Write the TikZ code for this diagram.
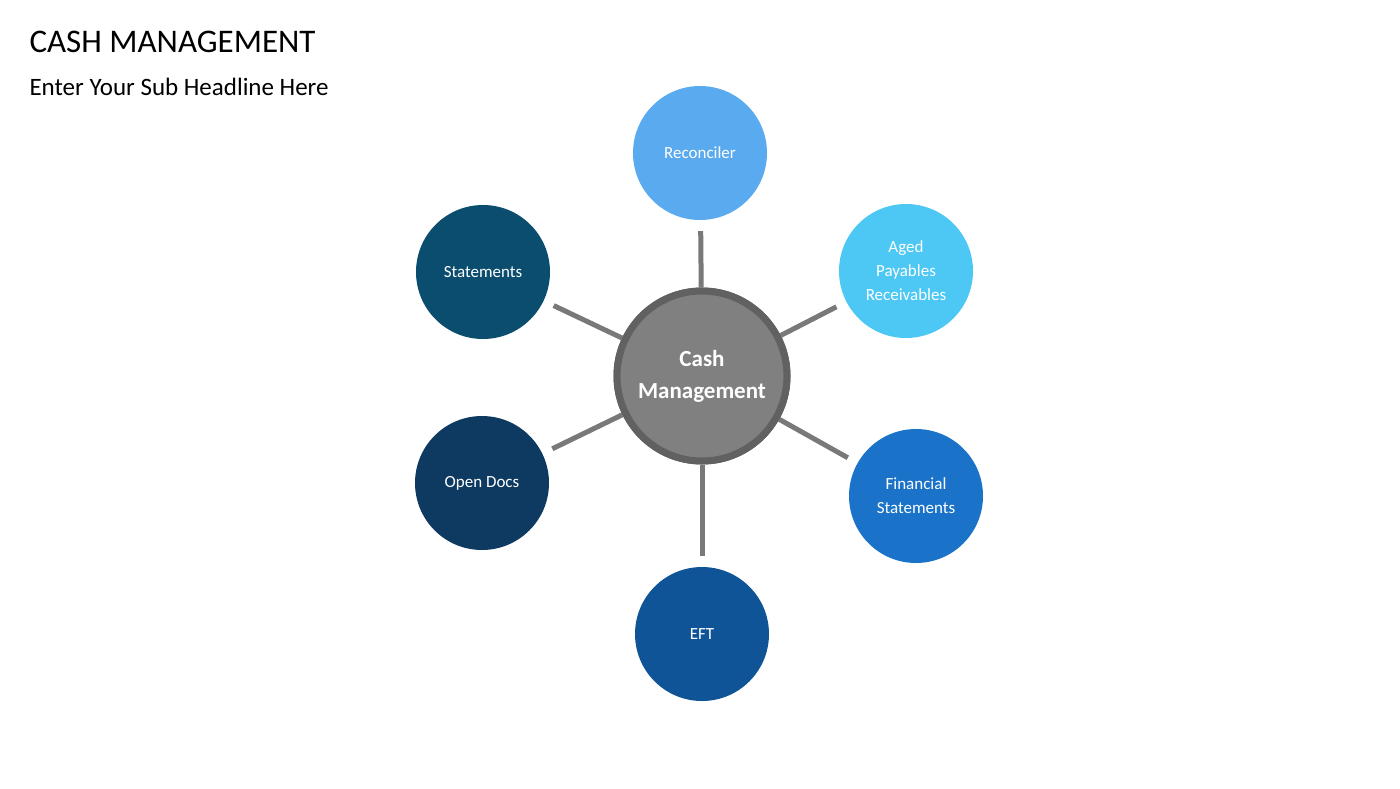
\documentclass[tikz,border=0pt]{standalone}
\usepackage{fontspec}
\setmainfont{Carlito}
\begin{document}
\begin{tikzpicture}[x=1pt,y=-1pt,
  sat/.style={circle,minimum size=134pt,inner sep=0pt,text=white,align=center,font=\fontsize{17}{24}\selectfont},
  link/.style={draw=gray!95!black,line width=5pt,shorten >=11pt}]
\useasboundingbox (0,0) rectangle (1400,788);
\definecolor{cA}{HTML}{5AAAF0}\definecolor{cB}{HTML}{4DC8F5}\definecolor{cC}{HTML}{1A73C8}
\definecolor{cD}{HTML}{0F5496}\definecolor{cE}{HTML}{0E3A62}\definecolor{cF}{HTML}{0B4D6E}
\node[anchor=west,font=\fontsize{33}{36}\selectfont] (t) at (26,42) {CASH MANAGEMENT};
\node[anchor=west,font=\fontsize{25}{30}\selectfont] (s) at (26,87) {Enter Your Sub Headline Here};
\node[circle,minimum size=170pt,inner sep=0pt,fill=gray!100,draw=black!62,line width=7pt,text=white,align=center,font=\bfseries\fontsize{23}{32}\selectfont] (c) at (702,376) {Cash\\Management};
\node[sat,fill=cA] (r) at (700,153) {Reconciler};
\node[sat,fill=cB] (a) at (906,271) {Aged\\Payables\\Receivables};
\node[sat,fill=cC] (f) at (916,496) {Financial\\Statements};
\node[sat,fill=cD] (e) at (702,634) {EFT};
\node[sat,fill=cE] (o) at (482,483) {Open Docs};
\node[sat,fill=cF] (st) at (483,272) {Statements};
\begin{scope}[on background layer/.style={}]
\foreach \n in {r,a,f,e,o,st} \draw[link] (c) -- (\n);
\end{scope}
\node[circle,minimum size=170pt,inner sep=0pt,fill=gray!100,draw=black!62,line width=7pt,text=white,align=center,font=\bfseries\fontsize{23}{32}\selectfont] at (702,376) {Cash\\Management};
\end{tikzpicture}
\end{document}
